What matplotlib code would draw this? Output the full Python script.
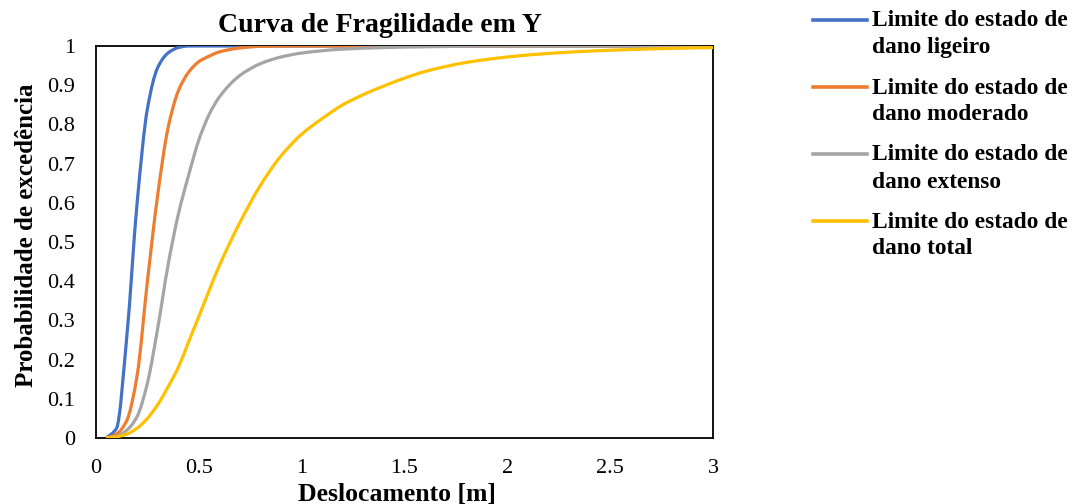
import numpy as np
import matplotlib
matplotlib.use("Agg")
import matplotlib.pyplot as plt
from matplotlib.path import Path
from matplotlib.patches import PathPatch, Rectangle
from matplotlib.lines import Line2D

plt.rcParams['font.family'] = ['Liberation Serif', 'DejaVu Serif']

# Displacement samples [m] and exceedance probabilities
x_ligeiro = [0.05, 0.1, 0.15, 0.2, 0.25, 0.3, 0.35, 0.4, 0.45, 0.5, 1.0, 2.0, 3.0]
y_ligeiro = [0.0, 0.025, 0.26, 0.60, 0.84, 0.945, 0.982, 0.996, 1.0, 1.0, 1.0, 1.0, 1.0]

x_moderado = [0.05, 0.1, 0.15, 0.2, 0.25, 0.3, 0.35, 0.4, 0.45, 0.5, 0.55, 0.6, 0.7, 0.8, 1.0, 2.0, 3.0]
y_moderado = [0.0, 0.01, 0.045, 0.16, 0.40, 0.62, 0.79, 0.885, 0.933, 0.96, 0.974, 0.985, 0.995, 0.999,
              1.0, 1.0, 1.0]

x_extenso = [0.05, 0.1, 0.15, 0.2, 0.25, 0.3, 0.35, 0.4, 0.45, 0.5, 0.55, 0.6, 0.7, 0.8, 0.9, 1.0,
             1.2, 1.4, 1.6, 2.0, 3.0]
y_extenso = [0.0, 0.004, 0.02, 0.055, 0.14, 0.28, 0.44, 0.57, 0.67, 0.76, 0.825, 0.87, 0.925, 0.955, 0.972,
             0.982, 0.992, 0.996, 0.998, 1.0, 1.0]

x_total = [0.05, 0.1, 0.15, 0.2, 0.25, 0.3, 0.35, 0.4, 0.45, 0.5, 0.6, 0.7, 0.8, 0.9, 1.0, 1.1, 1.2,
           1.3, 1.4, 1.5, 1.6, 1.8, 2.0, 2.2, 2.4, 2.6, 2.8, 3.0]
y_total = [0.0, 0.003, 0.01, 0.025, 0.05, 0.085, 0.13, 0.18, 0.245, 0.31, 0.44, 0.55, 0.645, 0.72, 0.775,
           0.815, 0.85, 0.876, 0.898, 0.918, 0.935, 0.958, 0.972, 0.981, 0.987, 0.991, 0.994, 0.996]

labels = ["Limite do estado de\ndano ligeiro", "Limite do estado de\ndano moderado",
          "Limite do estado de\ndano extenso", "Limite do estado de\ndano total"]
colors = ["#4472C4", "#ED7D31", "#A5A5A5", "#FFC000"]

x_ticks = [0, 0.5, 1, 1.5, 2, 2.5, 3]
x_ticklabels = ["0", "0.5", "1", "1.5", "2", "2.5", "3"]
y_ticks = [0, 0.1, 0.2, 0.3, 0.4, 0.5, 0.6, 0.7, 0.8, 0.9, 1.0]
y_ticklabels = ["0", "0.1", "0.2", "0.3", "0.4", "0.5", "0.6", "0.7", "0.8", "0.9", "1"]


def smooth_path(xs, ys):
    """Smoothed line: monotone cubic Bezier segments through the data points."""
    x = np.asarray(xs, float)
    y = np.asarray(ys, float)
    h = np.diff(x)
    d = np.diff(y) / h
    n = len(x)
    m = np.zeros(n)
    m[0], m[-1] = d[0], d[-1]
    for k in range(1, n - 1):
        if d[k - 1] * d[k] <= 0:
            m[k] = 0.0
        else:
            w1 = 2 * h[k] + h[k - 1]
            w2 = h[k] + 2 * h[k - 1]
            m[k] = (w1 + w2) / (w1 / d[k - 1] + w2 / d[k])
    verts = [(x[0], y[0])]
    codes = [Path.MOVETO]
    for k in range(n - 1):
        verts += [(x[k] + h[k] / 3, y[k] + m[k] * h[k] / 3),
                  (x[k + 1] - h[k] / 3, y[k + 1] - m[k + 1] * h[k] / 3),
                  (x[k + 1], y[k + 1])]
        codes += [Path.CURVE4] * 3
    return Path(verts, codes)


W, H = 1074, 504
fig = plt.figure(figsize=(W / 100, H / 100), dpi=100)
ax = fig.add_axes([96 / W, 1 - 438 / H, 617 / W, 392 / H])

clip = Rectangle((-0.05, -0.01), 3.1, 1.02, transform=ax.transData, visible=False)
ax.add_patch(clip)

series = [(x_ligeiro, y_ligeiro), (x_moderado, y_moderado), (x_extenso, y_extenso), (x_total, y_total)]
for (xs, ys), c in zip(series, colors):
    patch = PathPatch(smooth_path(xs, ys), facecolor="none", edgecolor=c, lw=2.3,
                      capstyle="butt", joinstyle="round", transform=ax.transData, zorder=3)
    patch.set_clip_path(clip)
    ax.add_patch(patch)

ax.set_xlim(0, 3)
ax.set_ylim(0, 1)
ax.set_xticks(x_ticks)
ax.set_xticklabels(x_ticklabels)
ax.set_yticks(y_ticks)
ax.set_yticklabels(y_ticklabels)
ax.tick_params(axis="both", length=0, labelsize=16)
ax.tick_params(axis="x", pad=15)
ax.tick_params(axis="y", pad=15)
for s in ax.spines.values():
    s.set_color("black")
    s.set_linewidth(1.3)

fig.text(380 / W, 1 - 25 / H, "Curva de Fragilidade em Y", fontsize=20, fontweight="bold",
         ha="center", va="center")
fig.text(397 / W, 1 - 494 / H, "Deslocamento [m]", fontsize=18.5, fontweight="bold",
         ha="center", va="center")
fig.text(27 / W, 1 - 235 / H, "Probabilidade de excedência", fontsize=18, fontweight="bold",
         ha="center", va="center", rotation=90)

# Legend (Excel style: marker aligned with the first text line)
entry_y = [20, 87, 154, 221]
for lab, c, yy in zip(labels, colors, entry_y):
    fig.add_artist(Line2D([813 / W, 867 / W], [1 - yy / H, 1 - yy / H], color=c, lw=2.6,
                          transform=fig.transFigure))
    for j, line in enumerate(lab.split("\n")):
        fig.text(872 / W, 1 - (yy + 1 + 27 * j) / H, line, fontsize=16.8, fontweight="bold",
                 ha="left", va="center")

fig.savefig("out.png", dpi=100)
